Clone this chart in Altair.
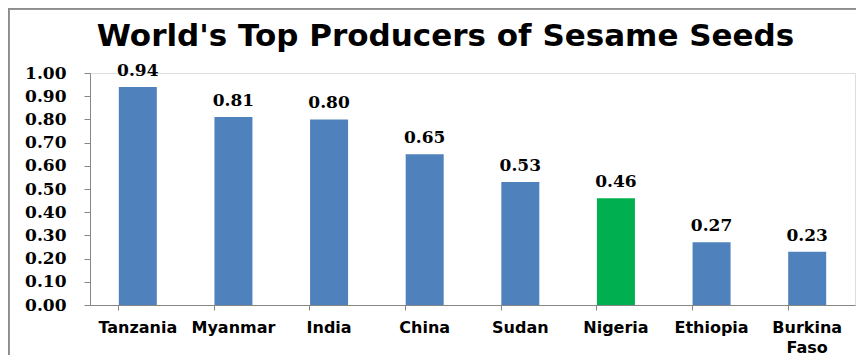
import altair as alt
import pandas as pd

countries = ["Tanzania", "Myanmar", "India", "China", "Sudan", "Nigeria", "Ethiopia", "Burkina Faso"]
values = [0.94, 0.81, 0.80, 0.65, 0.53, 0.46, 0.27, 0.23]
bar_colors = ["#4F81BD", "#4F81BD", "#4F81BD", "#4F81BD", "#4F81BD", "#00B050", "#4F81BD", "#4F81BD"]
y_ticks = [0.0, 0.1, 0.2, 0.3, 0.4, 0.5, 0.6, 0.7, 0.8, 0.9, 1.0]

df = pd.DataFrame({"country": countries, "value": values, "color": bar_colors})

x = alt.X(
    "country:N",
    sort=countries,
    title=None,
    scale=alt.Scale(paddingInner=0.6, paddingOuter=0.3),
    axis=alt.Axis(
        labelAngle=0,
        labelFont="DejaVu Sans",
        labelFontWeight="bold",
        labelFontSize=16,
        labelColor="#000000",
        labelPadding=9,
        labelExpr="split(datum.label, ' ')",
        labelLineHeight=20,
        labelOverlap=False,
        bandPosition=0,
        tickColor="#868686",
        domainColor="#868686",
        tickSize=5,
        ticks=True,
        grid=False,
    ),
)
y = alt.Y(
    "value:Q",
    title=None,
    scale=alt.Scale(domain=[0, 1.0], nice=False),
    axis=alt.Axis(
        values=y_ticks,
        format=".2f",
        labelFont="DejaVu Serif",
        labelFontWeight="bold",
        labelFontSize=17,
        labelColor="#000000",
        labelPadding=18,
        labelOverlap=False,
        tickColor="#868686",
        domainColor="#868686",
        tickSize=6,
        grid=False,
    ),
)

base = alt.Chart(df).encode(x=x, y=y)

bars = base.mark_bar(size=38).encode(color=alt.Color("color:N", scale=None))
labels = base.mark_text(
    dy=-7, baseline="bottom", font="DejaVu Serif", fontWeight="bold", fontSize=17, color="#000000"
).encode(text=alt.Text("value:Q", format=".2f"))

frame_top = alt.Chart(df).mark_rule(color="#8c8c8c", strokeWidth=1.5).encode(
    x=alt.value(-81.5), x2=alt.value(780), y=alt.value(-64.5)
)
frame_left = alt.Chart(df).mark_rule(color="#8c8c8c", strokeWidth=1.5).encode(
    x=alt.value(-81.5), y=alt.value(-64.5), y2=alt.value(290)
)

chart = alt.layer(bars, labels, frame_top, frame_left).properties(
    width=765,
    height=232,
    padding={"left": 82, "top": 65, "right": 1, "bottom": 50},
    autosize=alt.AutoSizeParams(type="none"),
    title=alt.TitleParams(
        "World's Top Producers of Sesame Seeds",
        font="DejaVu Sans",
        fontWeight="bold",
        fontSize=31,
        color="#000000",
        anchor="middle",
        dx=-27,
        offset=-45,
    ),
).configure_view(stroke=None).configure(background="#ffffff")

chart.save("out.html", embed_options={"renderer": "svg", "actions": False})
